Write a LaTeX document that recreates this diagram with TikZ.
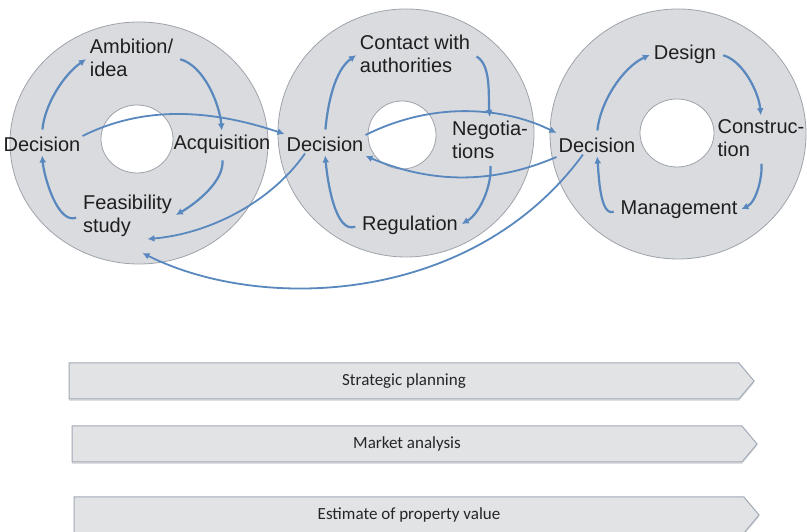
\documentclass[tikz,border=0pt]{standalone}
\usepackage{fontspec}
\setmainfont{Liberation Sans}
\newfontfamily\barfont{Carlito}
\usetikzlibrary{arrows.meta,shapes.geometric,shapes.symbols,shadows,positioning}

\definecolor{ringfill}{RGB}{218,219,223}
\definecolor{ringline}{RGB}{158,163,171}
\definecolor{cycblue}{RGB}{88,136,190}
\definecolor{barfill}{RGB}{225,227,229}
\definecolor{barline}{RGB}{160,170,182}

\begin{document}
\begin{tikzpicture}[x=1pt,y=1pt,
	ring/.style={ellipse, draw=ringline, fill=ringfill, line width=0.8pt, inner sep=0pt},
	hole/.style={ellipse, draw=ringline, fill=white, line width=0.8pt, inner sep=0pt},
	lbl/.style={font=\fontsize{20}{23}\selectfont, text=black!88, align=left, inner sep=2pt},
	cyc/.style={draw=cycblue, line width=2.2pt, -{Latex[length=7pt,width=7pt]}, shorten >=2pt, shorten <=5pt, looseness=0.85},
	link/.style={draw=cycblue, line width=1.8pt, -{Latex[length=7pt,width=7pt]}},
	bar/.style={signal, signal to=east, signal pointer angle=100, draw=barline, fill=barfill,
		line width=1pt, minimum height=36pt, minimum width=685pt, text=black!85,
		font=\barfont\fontsize{17}{19}\selectfont,
		drop shadow={shadow xshift=0pt, shadow yshift=-2pt, opacity=0.25}}
	]
	\useasboundingbox (0,0) rectangle (807,532);

	\node[ring, minimum width=258pt, minimum height=242pt] (r1) at (139,389) {};
	\node[ring, minimum width=256pt, minimum height=248pt] (r2) at (406,399) {};
	\node[ring, minimum width=256pt, minimum height=250pt] (r3) at (678,398) {};
	\node[hole, minimum width=72pt, minimum height=68pt] (h1) at (137,393) {};
	\node[hole, minimum width=68pt, minimum height=68pt] (h2) at (402,397) {};
	\node[hole, minimum width=74pt, minimum height=68pt] (h3) at (677,399) {};

	\node[lbl] (dec1) at (42,388) {Decision};
	\node[lbl] (amb) at (131.5,474) {Ambition/\\idea};
	\node[lbl] (acq) at (222,388) {Acquisition};
	\node[lbl] (feas) at (127.5,316) {Feasibility\\study};

	\node[lbl] (dec2) at (325,388) {Decision};
	\node[lbl] (cont) at (415,478) {Contact with\\authorities};
	\node[lbl] (neg) at (490,392) {Negotia-\\tions};
	\node[lbl] (reg) at (410,307) {Regulation};

	\node[lbl] (dec3) at (597,387) {Decision};
	\node[lbl] (des) at (685,478) {Design};
	\node[lbl] (cons) at (761,394) {Construc-\\tion};
	\node[lbl] (man) at (679,322) {Management};

	\draw[cyc] (dec1.north) to[out=85,in=215] (amb.west);
	\draw[cyc] (amb.east) to[out=-15,in=95] (acq.north);
	\draw[cyc] (acq.south) to[out=-85,in=30] (feas.east);
	\draw[cyc] (feas.west) to[out=200,in=-85] (dec1.south);

	\draw[cyc] (dec2.north) to[out=85,in=215] (cont.west);
	\draw[cyc] (cont.east) to[out=-30,in=95] (neg.north);
	\draw[cyc] (neg.south) to[out=-85,in=30] (reg.east);
	\draw[cyc] (reg.west) to[out=200,in=-85] (dec2.south);

	\draw[cyc] (dec3.north) to[out=85,in=205] (des.west);
	\draw[cyc] (des.east) to[out=-15,in=95] (cons.north);
	\draw[cyc] (cons.south) to[out=-85,in=25] (man.east);
	\draw[cyc] (man.west) to[out=200,in=-85] (dec3.south);

	\draw[link] ([yshift=8pt]dec1.east) .. controls +(70,35) and +(-60,20) .. ([yshift=10pt]dec2.west);
	\draw[link] ([yshift=9pt]dec2.east) .. controls +(70,35) and +(-50,25) .. ([yshift=12pt]dec3.west);
	\draw[link] ([yshift=-12pt]dec3.west) .. controls +(-70,-30) and +(60,-25) .. ([yshift=-12pt]dec2.east);
	\draw[link] ([xshift=-20pt]dec2.south) .. controls +(-35,-50) and +(60,5) .. ([xshift=20pt]feas.south);
	\draw[link] ([xshift=-14pt]dec3.south) .. controls +(-110,-150) and +(120,-60) .. ([xshift=15pt,yshift=-14pt]feas.south);

	\node[bar] (plan) at (404,151) {Strategic planning};
	\node[bar, below=26pt of plan, xshift=3pt] (market) {Market analysis};
	\node[bar, below=34pt of market, xshift=2pt] (value) {Estimate of property value};
\end{tikzpicture}
\end{document}
